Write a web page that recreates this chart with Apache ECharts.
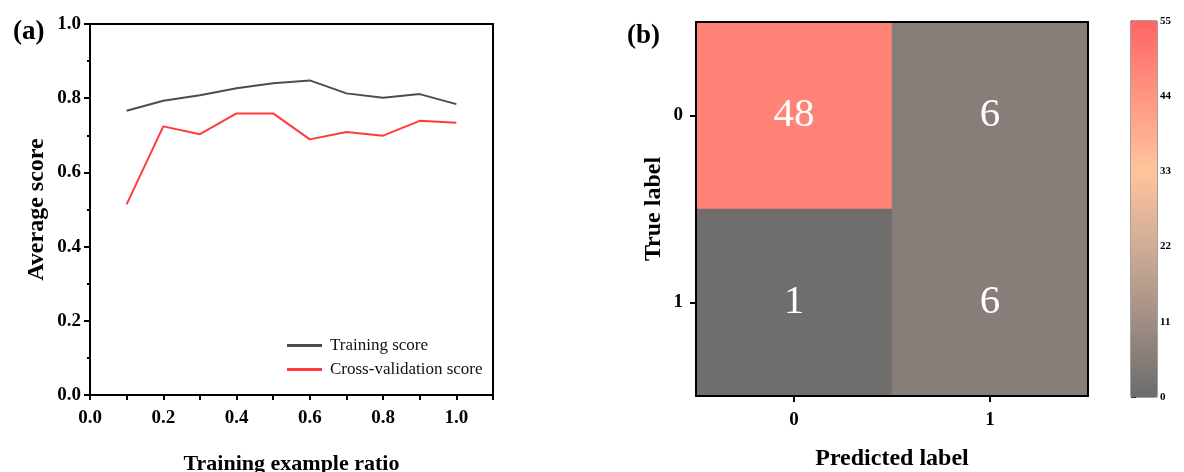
<!DOCTYPE html>
<html>
<head>
<meta charset="utf-8">
<script src="https://cdn.jsdelivr.net/npm/echarts@6/dist/echarts.min.js"></script>
<style>
  html, body { margin: 0; padding: 0; background: #fff; }
  #main { width: 1184px; height: 472px; }
</style>
</head>
<body>
<div id="main"></div>
<script>
// (a) learning curve
const ratios = [0.1, 0.2, 0.3, 0.4, 0.5, 0.6, 0.7, 0.8, 0.9, 1.0];
const trainingScore = [0.766, 0.793, 0.808, 0.827, 0.840, 0.848, 0.813, 0.801, 0.811, 0.784];
const cvScore = [0.514, 0.724, 0.703, 0.759, 0.759, 0.689, 0.709, 0.699, 0.739, 0.734];

// (b) confusion matrix, rows = true label, cols = predicted label
const labels = ['0', '1'];
const confusion = [
    [48, 6],
    [1, 6]
];
const colorbarTicks = [0, 11, 22, 33, 44, 55];

const serif = 'Liberation Serif';
const black = '#000';

let heatData = [];
confusion.forEach(function (row, i) {
    row.forEach(function (v, j) {
        heatData.push([j, i, v]);
    });
});

// frame lines for the heatmap box (top / right)
function frameAxis(gridIndex, position) {
    return {
        gridIndex: gridIndex,
        type: 'category',
        data: labels,
        position: position,
        z: 10,
        axisLine: { show: true, lineStyle: { color: black, width: 2 } },
        axisTick: { show: false },
        axisLabel: { show: false },
        splitLine: { show: false }
    };
}

let option = {
    backgroundColor: '#fff',
    animation: false,
    textStyle: { fontFamily: serif },
    title: [
        { text: '(a)', left: 8, top: 14, textStyle: { fontFamily: serif, fontSize: 27, fontWeight: 'bold', color: black } },
        { text: '(b)', left: 622, top: 18, textStyle: { fontFamily: serif, fontSize: 27, fontWeight: 'bold', color: black } }
    ],
    legend: {
        left: 282,
        top: 332,
        orient: 'vertical',
        itemGap: 7,
        itemWidth: 35,
        itemHeight: 3,
        icon: 'rect',
        textStyle: { fontFamily: serif, fontSize: 17, color: '#111', padding: [0, 0, 0, 3] },
        data: ['Training score', 'Cross-validation score']
    },
    grid: [
        { left: 90, top: 24, width: 403, height: 371, outerBoundsMode: 'none', show: true, borderColor: black, borderWidth: 2 },
        { left: 696, top: 22, width: 392, height: 374, outerBoundsMode: 'none' },
        { left: 1131, top: 21, width: 26, height: 376, outerBoundsMode: 'none', show: true, borderColor: '#444', borderWidth: 1, backgroundColor: 'transparent' }
    ],
    xAxis: [
        {
            gridIndex: 0,
            type: 'value',
            min: 0,
            max: 1.1,
            interval: 0.1,
            name: 'Training example ratio',
            nameLocation: 'middle',
            nameGap: 58,
            nameTextStyle: { fontFamily: serif, fontSize: 22, fontWeight: 'bold', color: black },
            axisLine: { lineStyle: { color: black, width: 2 } },
            axisTick: { show: true, length: 5, lineStyle: { color: black, width: 2 } },
            axisLabel: {
                margin: 14,
                fontFamily: serif, fontSize: 19, fontWeight: 'bold', color: black,
                formatter: function (v) {
                    let k = Math.round(v * 10);
                    return (k % 2 === 0 && k <= 10) ? (k / 10).toFixed(1) : '';
                }
            },
            splitLine: { show: false }
        },
        {
            gridIndex: 1,
            type: 'category',
            data: labels,
            z: 10,
            name: 'Predicted label',
            nameLocation: 'middle',
            nameGap: 51,
            nameTextStyle: { fontFamily: serif, fontSize: 24, fontWeight: 'bold', color: black },
            axisLine: { lineStyle: { color: black, width: 2 } },
            axisTick: { show: true, alignWithLabel: true, length: 6, lineStyle: { color: black, width: 2 } },
            axisLabel: { margin: 15, fontFamily: serif, fontSize: 19, fontWeight: 'bold', color: black },
            splitLine: { show: false }
        },
        { gridIndex: 2, type: 'value', show: false, min: 0, max: 1 },
        frameAxis(1, 'top')
    ],
    yAxis: [
        {
            gridIndex: 0,
            type: 'value',
            min: 0,
            max: 1.0,
            interval: 0.2,
            name: 'Average score',
            nameLocation: 'middle',
            nameGap: 41,
            nameTextStyle: { fontFamily: serif, fontSize: 24, fontWeight: 'bold', color: black },
            axisLine: { show: true, lineStyle: { color: black, width: 2 } },
            axisTick: { show: true, length: 6, lineStyle: { color: black, width: 2 } },
            minorTick: { show: true, splitNumber: 2, length: 3, lineStyle: { color: black, width: 2 } },
            axisLabel: {
                margin: 9,
                fontFamily: serif, fontSize: 19, fontWeight: 'bold', color: black,
                formatter: function (v) { return v.toFixed(1); }
            },
            splitLine: { show: false }
        },
        {
            gridIndex: 1,
            type: 'category',
            data: labels,
            inverse: true,
            z: 10,
            name: 'True label',
            nameLocation: 'middle',
            nameGap: 30,
            nameTextStyle: { fontFamily: serif, fontSize: 24, fontWeight: 'bold', color: black },
            axisLine: { lineStyle: { color: black, width: 2 } },
            axisTick: { show: true, alignWithLabel: true, length: 6, lineStyle: { color: black, width: 2 } },
            axisLabel: { margin: 13, fontFamily: serif, fontSize: 19, fontWeight: 'bold', color: black },
            splitLine: { show: false }
        },
        {
            gridIndex: 2,
            type: 'value',
            position: 'right',
            min: 0,
            max: 55,
            interval: 11,
            axisLine: { show: false },
            axisTick: { show: true, length: 5, lineStyle: { color: '#333', width: 1 } },
            axisLabel: { margin: 3, fontFamily: serif, fontSize: 11, fontWeight: 'bold', color: black },
            splitLine: { show: false }
        },
        frameAxis(1, 'right')
    ],
    visualMap: {
        type: 'continuous',
        min: colorbarTicks[0],
        max: colorbarTicks[colorbarTicks.length - 1],
        seriesIndex: 2,
        left: 1131,
        top: 21,
        padding: 0,
        itemWidth: 26,
        itemHeight: 376,
        calculable: false,
        hoverLink: false,
        text: null,
        inRange: {
            color: ['#6b6b6b', '#a08e84', '#d0ac96', '#ffc49c', '#ff9682', '#ff6464']
        }
    },
    series: [
        {
            name: 'Training score',
            type: 'line',
            xAxisIndex: 0,
            yAxisIndex: 0,
            symbol: 'none',
            color: '#4d4d4d',
            lineStyle: { width: 2 },
            data: ratios.map(function (r, i) { return [r, trainingScore[i]]; })
        },
        {
            name: 'Cross-validation score',
            type: 'line',
            xAxisIndex: 0,
            yAxisIndex: 0,
            symbol: 'none',
            color: '#ff3b3b',
            lineStyle: { width: 2 },
            data: ratios.map(function (r, i) { return [r, cvScore[i]]; })
        },
        {
            name: 'confusion',
            type: 'heatmap',
            xAxisIndex: 1,
            yAxisIndex: 1,
            data: heatData,
            label: {
                show: true,
                color: '#fff',
                fontFamily: serif,
                fontSize: 41
            },
            emphasis: { disabled: true }
        }
    ]
};

let myChart = echarts.init(document.getElementById('main'));
myChart.setOption(option, true);
</script>
</body>
</html>
